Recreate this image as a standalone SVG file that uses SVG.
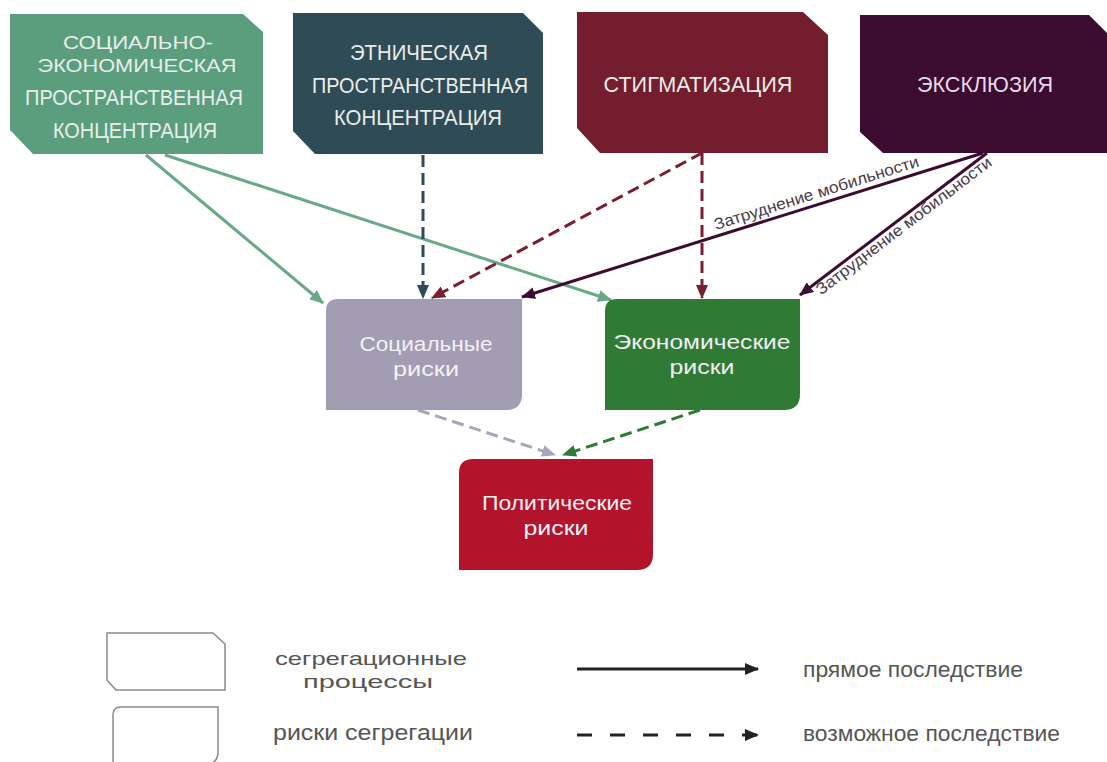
<svg xmlns="http://www.w3.org/2000/svg" width="1107" height="762" viewBox="0 0 1107 762">
<style>
text{font-family:"Liberation Sans",Arial,sans-serif}
.t{text-anchor:middle}
.cap{font-size:22px;fill:#e9eeeb}
.cap2{font-size:19px;fill:#e9eeeb}
.risk{font-size:21px;fill:#f4f1f6}
.leg{font-size:22px;fill:#555}
.leg2{font-size:19px;fill:#555}
.lbl{font-size:16px;fill:#4a3a48;text-anchor:middle}
.c{fill:none;stroke-width:3}
.d{stroke-dasharray:12 6}
</style>
<defs>
<marker id="aG" markerUnits="userSpaceOnUse" markerWidth="14" markerHeight="12" refX="13" refY="6" orient="auto"><path d="M0,0 L14,6 L0,12 Z" fill="#6aa988"/></marker>
<marker id="aS" markerUnits="userSpaceOnUse" markerWidth="14" markerHeight="12" refX="13" refY="6" orient="auto"><path d="M0,0 L14,6 L0,12 Z" fill="#2f4b56"/></marker>
<marker id="aM" markerUnits="userSpaceOnUse" markerWidth="14" markerHeight="12" refX="13" refY="6" orient="auto"><path d="M0,0 L14,6 L0,12 Z" fill="#7a1f30"/></marker>
<marker id="aP" markerUnits="userSpaceOnUse" markerWidth="14" markerHeight="12" refX="13" refY="6" orient="auto"><path d="M0,0 L14,6 L0,12 Z" fill="#3c0b30"/></marker>
<marker id="aL" markerUnits="userSpaceOnUse" markerWidth="14" markerHeight="12" refX="13" refY="6" orient="auto"><path d="M0,0 L14,6 L0,12 Z" fill="#a9a5b8"/></marker>
<marker id="aE" markerUnits="userSpaceOnUse" markerWidth="14" markerHeight="12" refX="13" refY="6" orient="auto"><path d="M0,0 L14,6 L0,12 Z" fill="#2f7a35"/></marker>
<marker id="aK" markerUnits="userSpaceOnUse" markerWidth="14" markerHeight="12" refX="13" refY="6" orient="auto"><path d="M0,0 L14,6 L0,12 Z" fill="#222"/></marker>
</defs>

<g id="connectors">
<line class="c" x1="146" y1="155" x2="323" y2="303" stroke="#6aa988" marker-end="url(#aG)"/>
<line class="c" x1="165" y1="155" x2="611" y2="300" stroke="#6aa988" marker-end="url(#aG)"/>
<line class="c d" x1="423" y1="155" x2="423" y2="298" stroke="#2f4b56" marker-end="url(#aS)"/>
<line class="c d" x1="702" y1="153" x2="432" y2="298" stroke="#7a1f30" marker-end="url(#aM)"/>
<line class="c d" x1="702" y1="153" x2="702" y2="298" stroke="#7a1f30" marker-end="url(#aM)"/>
<line class="c" x1="983" y1="153" x2="522" y2="297" stroke="#3c0b30" marker-end="url(#aP)"/>
<line class="c" x1="987" y1="153" x2="800" y2="295" stroke="#3c0b30" marker-end="url(#aP)"/>
<line class="c d" x1="418" y1="410" x2="555" y2="455" stroke="#a9a5b8" marker-end="url(#aL)"/>
<line class="c d" x1="700" y1="410" x2="563" y2="455" stroke="#2f7a35" marker-end="url(#aE)"/>
<text class="lbl" transform="translate(818,198) rotate(-17.4)" textLength="214" lengthAdjust="spacingAndGlyphs">Затруднение мобильности</text>
<text class="lbl" transform="translate(907,230) rotate(-37.3)" textLength="216" lengthAdjust="spacingAndGlyphs">Затруднение мобильности</text>
</g>

<g id="n-socio">
<path d="M10,14 H243 L263,32 V154 H33 L10,130 Z" fill="#5b9e7e"/>
<text class="t cap2" x="138" y="49" textLength="150" lengthAdjust="spacingAndGlyphs">СОЦИАЛЬНО-</text>
<text class="t cap2" x="137" y="72" textLength="199" lengthAdjust="spacingAndGlyphs">ЭКОНОМИЧЕСКАЯ</text>
<text class="t cap" x="134" y="105" textLength="218" lengthAdjust="spacingAndGlyphs">ПРОСТРАНСТВЕННАЯ</text>
<text class="t cap" x="135" y="138" textLength="164" lengthAdjust="spacingAndGlyphs">КОНЦЕНТРАЦИЯ</text>
</g>
<g id="n-ethnic">
<path d="M293,13 H523 L543,33 V154 H315 L293,131 Z" fill="#2f4b56"/>
<text class="t cap" x="419" y="60" textLength="138" lengthAdjust="spacingAndGlyphs">ЭТНИЧЕСКАЯ</text>
<text class="t cap" x="420" y="93" textLength="216" lengthAdjust="spacingAndGlyphs">ПРОСТРАНСТВЕННАЯ</text>
<text class="t cap" x="418" y="125" textLength="168" lengthAdjust="spacingAndGlyphs">КОНЦЕНТРАЦИЯ</text>
</g>
<g id="n-stigma">
<path d="M577,12 H803 L828,35 V153 H600 L577,128 Z" fill="#741d2e"/>
<text class="t cap" x="698" y="92" textLength="189" lengthAdjust="spacingAndGlyphs">СТИГМАТИЗАЦИЯ</text>
</g>
<g id="n-exclusion">
<path d="M860,15 H1089 L1107,33 V153 H883 L860,132 Z" fill="#3c0b30"/>
<text class="t cap" x="985" y="92" style="fill:#ead9e8" textLength="136" lengthAdjust="spacingAndGlyphs">ЭКСКЛЮЗИЯ</text>
</g>

<g id="n-social">
<path d="M338,299 H522 V394 Q522,410 506,410 H326 V311 Q326,299 338,299 Z" fill="#a29db3"/>
<text class="t risk" x="426" y="351" textLength="133" lengthAdjust="spacingAndGlyphs">Социальные</text>
<text class="t risk" x="426" y="376" textLength="66" lengthAdjust="spacingAndGlyphs">риски</text>
</g>
<g id="n-economic">
<path d="M617,299 H800 V394 Q800,410 784,410 H605 V311 Q605,299 617,299 Z" fill="#2f7a35"/>
<text class="t risk" x="702" y="349" textLength="177" lengthAdjust="spacingAndGlyphs">Экономические</text>
<text class="t risk" x="702" y="374" textLength="65" lengthAdjust="spacingAndGlyphs">риски</text>
</g>
<g id="n-political">
<path d="M473,459 H653 V554 Q653,570 637,570 H459 V473 Q459,459 473,459 Z" fill="#b3142c"/>
<text class="t risk" x="557" y="510" textLength="150" lengthAdjust="spacingAndGlyphs">Политические</text>
<text class="t risk" x="556" y="535" textLength="65" lengthAdjust="spacingAndGlyphs">риски</text>
</g>

<g id="legend">
<path d="M107,633 H213 L225,644 V690 H116 L107,680 Z" fill="#fff" stroke="#8a8a8a" stroke-width="1.5"/>
<path d="M121,707 H218 V752 Q218,764 206,764 H113 V715 Q113,707 121,707 Z" fill="#fff" stroke="#8a8a8a" stroke-width="1.5"/>
<text class="t leg2" x="371" y="665" textLength="192" lengthAdjust="spacingAndGlyphs">сегрегационные</text>
<text class="t leg2" x="368" y="688" textLength="130" lengthAdjust="spacingAndGlyphs">процессы</text>
<text class="t leg" x="373" y="740" textLength="200" lengthAdjust="spacingAndGlyphs">риски сегрегации</text>
<line x1="577" y1="669" x2="758" y2="669" stroke="#222" stroke-width="3" marker-end="url(#aK)"/>
<line x1="577" y1="735" x2="758" y2="735" stroke="#222" stroke-width="3" stroke-dasharray="15 18" marker-end="url(#aK)"/>
<text class="leg" x="803" y="677" textLength="220" lengthAdjust="spacingAndGlyphs">прямое последствие</text>
<text class="leg" x="803" y="741" textLength="257" lengthAdjust="spacingAndGlyphs">возможное последствие</text>
</g>
</svg>
